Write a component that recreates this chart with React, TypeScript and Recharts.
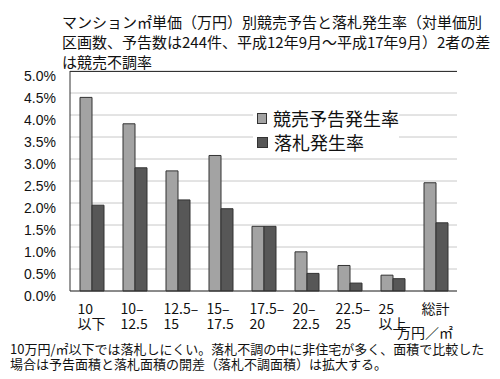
import React from 'react'
import { BarChart, Bar, XAxis, YAxis, CartesianGrid } from 'recharts'

const categories = ['10以下', '10–12.5', '12.5–15', '15–17.5', '17.5–20', '20–22.5', '22.5–25', '25以上', '総計']
const labelTop = ['10', '10–', '12.5–', '15–', '17.5–', '20–', '22.5–', '25', '総計']
const labelBottom = ['以下', '12.5', '15', '17.5', '20', '22.5', '25', '以上', '']
const auctionRate = [4.4, 3.8, 2.73, 3.08, 1.47, 0.89, 0.58, 0.36, 2.46]
const winRate = [1.95, 2.8, 2.07, 1.87, 1.47, 0.4, 0.18, 0.28, 1.55]
const yTicks = [0, 0.5, 1, 1.5, 2, 2.5, 3, 3.5, 4, 4.5, 5]
const seriesNames = ['競売予告発生率', '落札発生率']

const titleLines = [
  'マンション㎡単価（万円）別競売予告と落札発生率（対単価別',
  '区画数、予告数は244件、平成12年9月～平成17年9月）2者の差',
  'は競売不調率',
]
const noteLines = [
  '10万円/㎡以下では落札しにくい。落札不調の中に非住宅が多く、面積で比較した',
  '場合は予告面積と落札面積の開差（落札不調面積）は拡大する。',
]

const data = categories.map((c, i) => ({ name: c, auction: auctionRate[i], win: winRate[i] }))

const JP = '"Noto Sans CJK JP", "Noto Sans", sans-serif'
const LIGHT = '#a3a3a3'
const DARK = '#575757'

function XTick(props: any) {
  const { x, y, index } = props
  return (
    <g>
      <text x={x - 14} y={y + 15} textAnchor="start" fontSize={14} fontFamily={JP} fill="#111">{labelTop[index]}</text>
      <text x={x - 14} y={y + 30} textAnchor="start" fontSize={14} fontFamily={JP} fill="#111">{labelBottom[index]}</text>
    </g>
  )
}

function YTick(props: any) {
  const { y, payload } = props
  return (
    <text x={56} y={y + 10} textAnchor="end" fontSize={14} fontFamily='"Liberation Sans", Arial, sans-serif' fill="#111">
      {payload.value.toFixed(1) + '%'}
    </text>
  )
}

function LegendBox() {
  const colors = [LIGHT, DARK]
  return (
    <div style={{ position: 'absolute', left: 253, top: 102, background: '#fff', width: 142, padding: '4px 0 4px 4px', fontFamily: JP }}>
      {seriesNames.map((label, i) => (
        <div key={label} style={{ display: 'flex', alignItems: 'center', height: 24, fontSize: 18, color: '#111', whiteSpace: 'nowrap' }}>
          <span style={{ width: 9, height: 9, background: colors[i], border: '1px solid #333', marginRight: 6, display: 'inline-block' }} />
          {label}
        </div>
      ))}
    </div>
  )
}

export default function App() {
  return (
    <div style={{ position: 'absolute', left: 0, top: 0, width: 500, height: 379, background: '#fff', fontFamily: JP, overflow: 'hidden' }}>
      <div style={{ position: 'absolute', left: 62, top: 12, fontSize: 15, lineHeight: '20px', color: '#111' }}>
        {titleLines.map(t => <div key={t} style={{ whiteSpace: 'nowrap' }}>{t}</div>)}
      </div>
      <BarChart
        width={500}
        height={379}
        data={data}
        margin={{ top: 71, right: 43, bottom: 48, left: 0 }}
        barGap={0}
        barSize={12}
        style={{ position: 'absolute', left: 0, top: 0 }}
      >
        <CartesianGrid vertical={false} stroke="#c8c8c8" />
        <XAxis dataKey="name" tick={<XTick />} tickLine={false} axisLine={{ stroke: '#333' }} height={40} interval={0} />
        <YAxis domain={[0, 5]} ticks={yTicks} interval={0} tick={<YTick />} tickLine={false} axisLine={{ stroke: '#333' }} width={70} />
        <YAxis yAxisId="r" orientation="right" tick={false} tickLine={false} axisLine={{ stroke: '#333' }} width={0} />
        <Bar dataKey="auction" name={seriesNames[0]} fill={LIGHT} stroke="#333" strokeWidth={1} isAnimationActive={false} />
        <Bar dataKey="win" name={seriesNames[1]} fill={DARK} stroke="#333" strokeWidth={1} isAnimationActive={false} />
      </BarChart>
      <LegendBox />
      <div style={{ position: 'absolute', left: 70, top: 71, width: 387, height: 0, borderTop: '1px solid #333' }} />
      <div style={{ position: 'absolute', left: 397, top: 324, fontSize: 14, lineHeight: '16px', color: '#111', whiteSpace: 'nowrap' }}>万円／㎡</div>
      <div style={{ position: 'absolute', left: 10, top: 341, fontSize: 13, lineHeight: '15px', color: '#111' }}>
        {noteLines.map(t => <div key={t} style={{ whiteSpace: 'nowrap' }}>{t}</div>)}
      </div>
    </div>
  )
}
